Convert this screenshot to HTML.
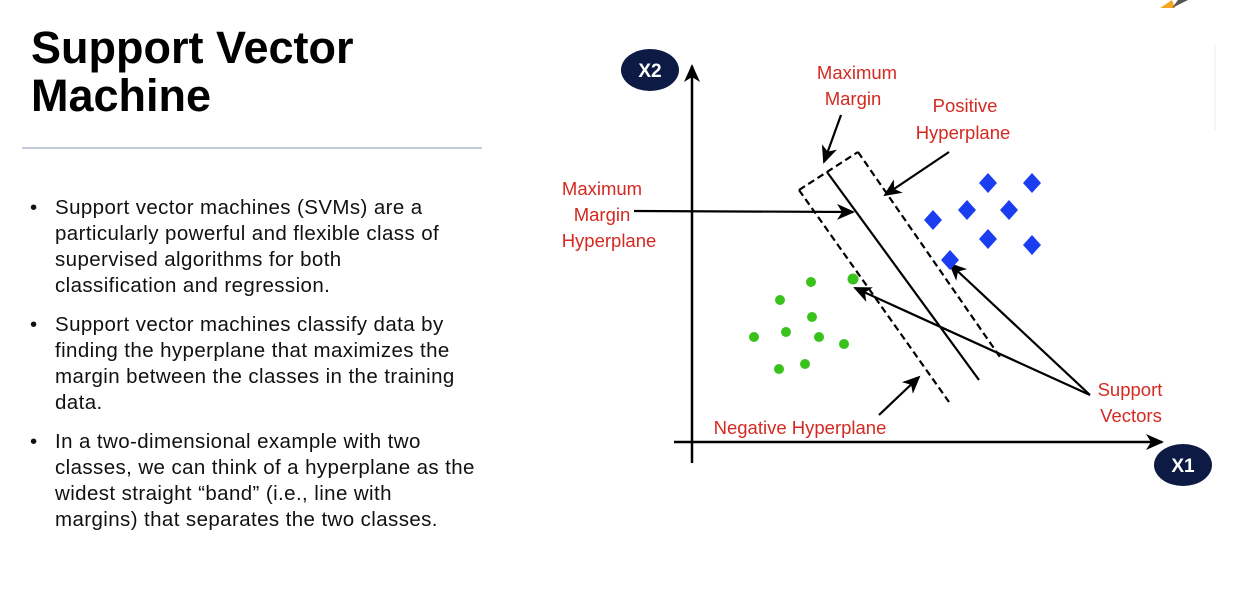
<!DOCTYPE html>
<html><head><meta charset="utf-8"><style>
body{margin:0;width:1243px;height:603px;background:#fff;position:relative;overflow:hidden;font-family:"Liberation Sans",sans-serif}
h1{position:absolute;left:31px;top:24px;margin:0;font-size:45px;line-height:48px;font-weight:bold;color:#000}
.hr{position:absolute;left:22px;top:147px;width:460px;height:2px;background:#c5cad9}
ul{position:absolute;left:0;top:195px;margin:0;padding:0;list-style:none;width:520px}
li{position:relative;padding-left:55px;font-size:20.5px;letter-spacing:0.4px;line-height:26px;color:#111;margin-bottom:13px;white-space:nowrap}
li:before{content:"•";position:absolute;left:30px;top:0}
svg{position:absolute;left:0;top:0}
</style></head><body>
<h1>Support Vector<br>Machine</h1>
<div class="hr"></div>
<ul>
<li>Support vector machines (SVMs) are a<br>particularly powerful and flexible class of<br>supervised algorithms for both<br>classification and regression.</li>
<li>Support vector machines classify data by<br>finding the hyperplane that maximizes the<br>margin between the classes in the training<br>data.</li>
<li>In a two-dimensional example with two<br>classes, we can think of a hyperplane as the<br>widest straight “band” (i.e., line with<br>margins) that separates the two classes.</li>
</ul>
<svg width="1243" height="603" viewBox="0 0 1243 603">
<defs>
<marker id="b" markerWidth="18" markerHeight="18" refX="16" refY="9" orient="auto" markerUnits="userSpaceOnUse" viewBox="0 0 18 18"><path d="M0,1 L18,9 L0,17 L5,9z" fill="#000"/></marker></defs>
<line x1="1215" y1="45" x2="1215" y2="130" stroke="#eee"/>
<path d="M1160,8 L1172,0 L1175,8z" fill="#f5a623"/><path d="M1172,8 L1178,0 L1188,0z" fill="#555"/>
<g stroke="#000" stroke-width="2.5" fill="none">
<line x1="692" y1="463" x2="692" y2="66" marker-end="url(#b)"/>
<line x1="674" y1="442" x2="1162" y2="442" marker-end="url(#b)"/>
</g>
<ellipse cx="650" cy="70" rx="29" ry="21" fill="#0c1a44"/>
<text x="650" y="77" text-anchor="middle" fill="#fff" font-size="19" font-weight="bold">X2</text>
<ellipse cx="1183" cy="465" rx="29" ry="21" fill="#0c1a44"/>
<text x="1183" y="472" text-anchor="middle" fill="#fff" font-size="19" font-weight="bold">X1</text>
<g stroke="#000" stroke-width="2.2" fill="none">
<line x1="827" y1="172" x2="979" y2="380"/>
<g stroke-dasharray="7,4">
<line x1="799" y1="190" x2="949" y2="402"/>
<line x1="799" y1="190" x2="858" y2="152"/>
<line x1="858" y1="152" x2="1000" y2="357"/>
</g>
<line x1="841" y1="115" x2="824" y2="162" marker-end="url(#b)"/>
<line x1="949" y1="152" x2="885" y2="195" marker-end="url(#b)"/>
<line x1="634" y1="211" x2="853" y2="212" marker-end="url(#b)"/>
<line x1="879" y1="415" x2="919" y2="377" marker-end="url(#b)"/>
<line x1="1090" y1="395" x2="855" y2="288" marker-end="url(#b)"/>
<line x1="1090" y1="395" x2="950" y2="264" marker-end="url(#b)"/>
</g>
<g fill="#3ac21c">
<circle cx="811" cy="282" r="5"/><circle cx="853" cy="279" r="5.5"/><circle cx="780" cy="300" r="5"/><circle cx="812" cy="317" r="5"/><circle cx="786" cy="332" r="5"/><circle cx="819" cy="337" r="5"/><circle cx="754" cy="337" r="5"/><circle cx="844" cy="344" r="5"/><circle cx="779" cy="369" r="5"/><circle cx="805" cy="364" r="5"/>
</g>
<g fill="#1a3df0">
<path d="M988,173 l9,10 l-9,10 l-9,-10z"/><path d="M1032,173 l9,10 l-9,10 l-9,-10z"/><path d="M967,200 l9,10 l-9,10 l-9,-10z"/><path d="M1009,200 l9,10 l-9,10 l-9,-10z"/><path d="M933,210 l9,10 l-9,10 l-9,-10z"/><path d="M988,229 l9,10 l-9,10 l-9,-10z"/><path d="M1032,235 l9,10 l-9,10 l-9,-10z"/><path d="M950,250 l9,10 l-9,10 l-9,-10z"/>
</g>
<g fill="#d42a22" font-size="18.5" text-anchor="middle">
<text x="857" y="79">Maximum</text><text x="853" y="105">Margin</text>
<text x="965" y="112">Positive</text><text x="963" y="139">Hyperplane</text>
<text x="602" y="195">Maximum</text><text x="602" y="221">Margin</text><text x="609" y="247">Hyperplane</text>
<text x="800" y="434">Negative Hyperplane</text>
<text x="1130" y="396">Support</text><text x="1131" y="422">Vectors</text>
</g>
</svg>
</body></html>
